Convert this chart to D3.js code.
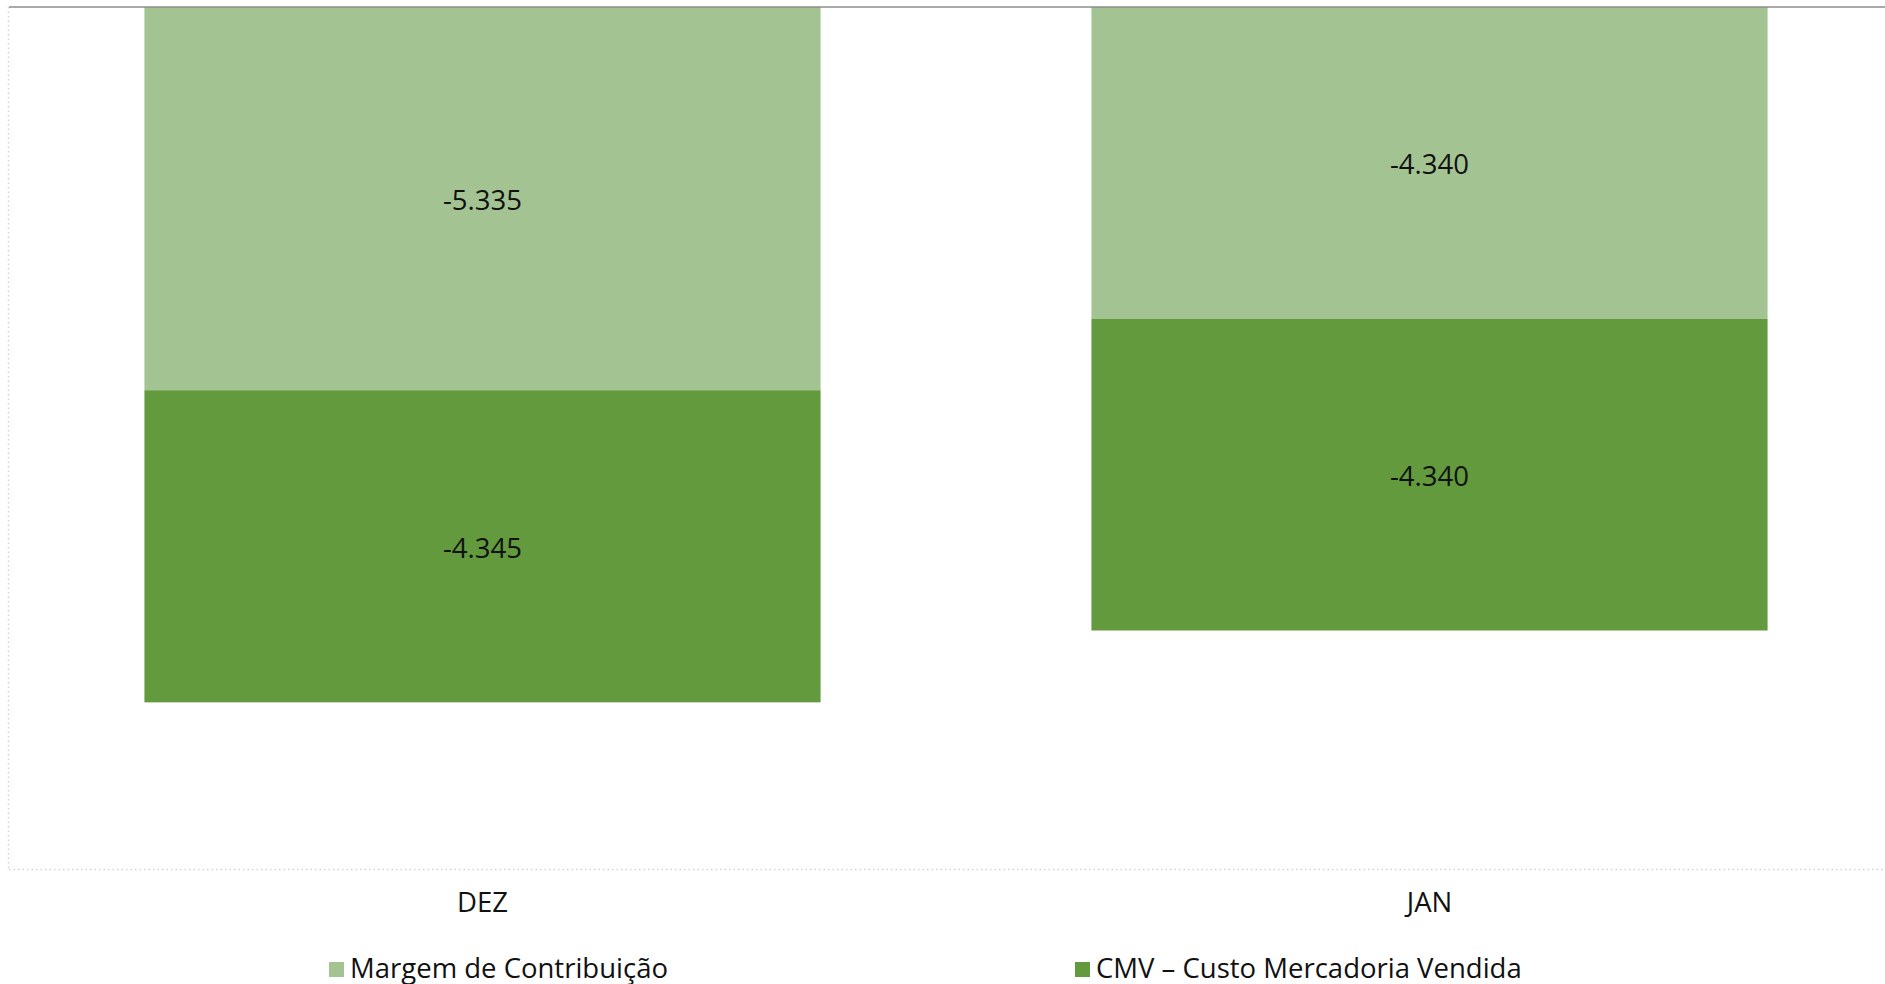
<!DOCTYPE html>
<html>
<head>
<meta charset="utf-8">
<script src="https://cdn.jsdelivr.net/npm/d3@7"></script>
<style>
html,body{margin:0;padding:0;background:#fff;}
svg{display:block;}
text{font-family:"Open Sans",sans-serif;fill:#111;}
</style>
</head>
<body>
<svg id="chart" width="1885" height="984"></svg>
<script>
const categories = ["DEZ", "JAN"];
const seriesNames = ["Margem de Contribuição", "CMV – Custo Mercadoria Vendida"];
const margemValues = [-5335, -4340];
const cmvValues = [-4345, -4340];
const seriesColors = ["#A3C492", "#639A3E"];
const yDomain = [-12000, 0];

const svg = d3.select("#chart");
const W = 1885, H = 984;
const plot = {left: 9, right: 1903, top: 7, bottom: 869};
const FS = 27.5;

const x = d3.scaleBand().domain(categories).range([plot.left, plot.right]).paddingInner(0.286).paddingOuter(0.143);
const y = d3.scaleLinear().domain(yDomain).range([plot.bottom, plot.top]);

const fmt = v => d3.format(",")(v).replace(/,/g, ".").replace(/\u2212/g, "-");

const data = categories.map((c, i) => ({cat: c, v: [margemValues[i], cmvValues[i]]}));
const stackRows = data.map(d => {
  let acc = 0;
  return d.v.map((v, k) => { const y0 = acc; acc += v; return {cat: d.cat, k, v, y0, y1: acc}; });
});

// dotted borders
svg.append("line").attr("x1", plot.left - 0.5).attr("x2", plot.left - 0.5).attr("y1", plot.top).attr("y2", plot.bottom)
  .attr("stroke", "#d4d4d4").attr("stroke-width", 1.5).attr("stroke-dasharray", "1.5,3");
svg.append("line").attr("x1", plot.left).attr("x2", W).attr("y1", plot.bottom + 0.5).attr("y2", plot.bottom + 0.5)
  .attr("stroke", "#d4d4d4").attr("stroke-width", 1.5).attr("stroke-dasharray", "1.5,3");

const g = svg.append("g");
stackRows.flat().forEach(s => {
  g.append("rect")
    .attr("x", x(s.cat))
    .attr("width", x.bandwidth())
    .attr("y", y(s.y0))
    .attr("height", y(s.y1) - y(s.y0))
    .attr("fill", seriesColors[s.k]);
  g.append("text")
    .attr("x", x(s.cat) + x.bandwidth() / 2)
    .attr("y", (y(s.y0) + y(s.y1)) / 2 + 1)
    .attr("text-anchor", "middle")
    .attr("dominant-baseline", "central")
    .attr("font-size", FS)
    .text(fmt(s.v));
});

// top axis line (zero)
svg.append("line").attr("x1", plot.left).attr("x2", W).attr("y1", y(0)).attr("y2", y(0))
  .attr("stroke", "#8c8c8c").attr("stroke-width", 1.5);

// category axis labels
const xAxis = d3.axisBottom(x).tickSize(0).tickPadding(0);
const ax = svg.append("g").attr("transform", `translate(0, ${plot.bottom})`).call(xAxis);
ax.select(".domain").remove();
ax.selectAll("text").attr("y", 43).attr("dy", 0).attr("font-size", FS).attr("font-family", "Open Sans, sans-serif").attr("fill", "#111");

// legend
const legendX = [329, 1075];
seriesNames.forEach((n, k) => {
  const lg = svg.append("g").attr("transform", `translate(${legendX[k]}, 962)`);
  lg.append("rect").attr("width", 15).attr("height", 15).attr("fill", seriesColors[k]);
  lg.append("text").attr("x", 21).attr("y", 15.5).attr("font-size", FS).text(n);
});
</script>
</body>
</html>
